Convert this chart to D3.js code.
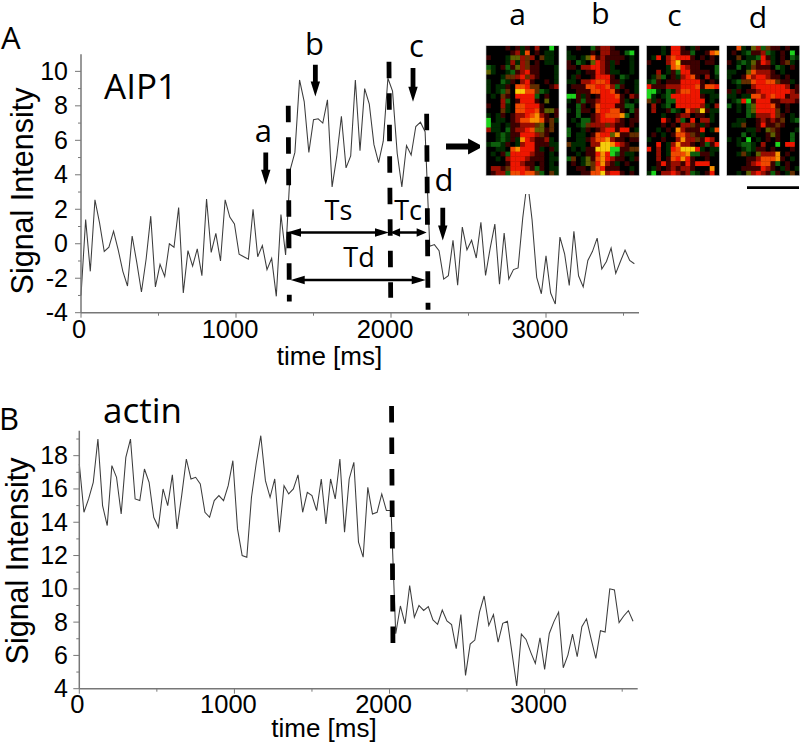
<!DOCTYPE html>
<html><head><meta charset="utf-8">
<script src="https://cdn.jsdelivr.net/npm/d3@7"></script>
<style>html,body{margin:0;padding:0;background:#fff}svg{display:block}</style>
</head><body><svg id="c" width="800" height="746"></svg>
<script>
const aip1Values=[-3,1.4,-1.6,2.55,1.2,-0.45,-0.2,0.73,-0.35,-1.6,-2.45,0.45,-1.1,-2.8,-0.9,1.6,-2.5,-1.2,-1.9,0,-0.2,2.1,-2.85,-0.4,-1.3,-0.3,-1.85,2.6,-0.5,0.6,-1,2.55,1.55,1.15,-0.6,-0.75,-0.9,2,-0.75,-0.1,-1.5,-0.85,-3.05,1.7,-0.65,4.3,5.3,9.5,8.25,5.3,7.2,7.25,7,8.35,3.3,5.05,7.4,4.4,5.1,9.5,5.4,9,8.1,5.75,4.7,5.95,9.6,8.85,5.25,3.3,5.7,5.15,6.8,7.05,6.5,-0.15,-0.05,-0.4,-2.05,-1.85,0.2,-2.4,0.97,-0.35,0.2,-0.83,1.25,-1.84,-0.25,1.14,-2.34,0.62,-2.05,-1.5,-1.4,1.5,3.7,1.4,-1.95,-2.9,-0.7,-2.86,-3.5,0.39,-0.58,-2.42,0.72,-1.86,-2.5,-0.97,-0.44,0.33,-1.47,-1.03,-0.25,-1.72,-1.03,-0.37,-0.97,-1.16];
const actinValues=[17.5,14.6,15.4,16.4,19,15,13.8,17.4,16.7,14.5,17.9,19,15.4,15.3,17.2,16.4,14.3,13.7,16,15,16.85,13.6,15.6,17.8,16.6,16.7,16.3,14.6,14.3,15.3,15.6,15.3,16.2,17.7,13.6,12,11.9,15.5,17.5,19.2,16.5,15.5,16.6,13.4,16.2,15.7,16,16.85,14.6,15.8,15.6,14.7,16.6,13.9,16.6,15.4,17.8,13.4,16.6,17.6,12.8,11.9,16.1,14.5,14.6,15.7,14.7,14.7,7.3,8.97,7.9,10.2,8.3,9,8.7,8.93,8.13,7.87,8.73,8.07,7.85,6.4,8.45,4.8,6.68,6.92,8.6,9.57,7.8,8.45,6.8,7.93,8.05,6.12,4.16,7.28,6.96,6.2,5.52,7.06,5.16,7.32,8.03,8.6,5.26,6.02,7.28,5.92,7.73,8.2,6.98,5.82,7.48,7.4,10,9.93,7.97,8.37,8.69,8.05];
const sampleMs=30;
const xTicks=[0,1000,2000,3000];
const aipTicks=[-4,-2,0,2,4,6,8,10];
const actinTicks=[4,6,8,10,12,14,16,18];
const aipDashes=[[1337,8,1344,-3.35],[1987,10.56,1998,-3.13],[2230,7.54,2239,-3.83]];
const actinDashes=[[2013,20.98,2022,6.72]];
const downArrows=[[1192,5.3,3.42],[1512,10.38,8.54],[2142,10.2,8.24],[2334,2.09,0.19]];
const spanArrows=[[1329,1987,0.65],[1994,2230,0.65],[1353,2224,-2.1]];
const noteLabels=[["a",1177,5.88,31],["b",1506,10.96,31],["c",2164,10.85,31],["d",2342,3.04,31],["Ts",1661,1.35,27],["Tc",2110,1.35,27],["Td",1794,-1.33,27]];
const imageNames=["a","b","c","d"];
const imageA=["....r.rgr.R..L.",".....rRgO.r.gg.","r...gvvRmR.mgg.","....gRgRm.r.gg.","Gg.rGrvRmrr...g","vg..gGrRFrr...g","...gmmRFmRr...g","g..Ggr.RFr..r.g","g.ggr.OOFmm..rR","g.gGm.YYOOmGg..",".g.mr.FFFFG.r..","...RG.rFFFr.v..","r..Rg.OOFFFr...","...mg.OOFFOrvvr","g.gr.rRRFOoRr.r","L.gg.rROOooOrmg","Lgg.grrRRRmv.m.","Rgg.GrRRFOvvrm.","..gGgrrFFFRmr..","..gGgrgoFRrrRg.","gGGgr.gRFFrrrgg","..gg.OoFFFrg.rg",".g.rGFFFFRrr.g.","..g.RFFFRrrr.gg","....rFFRrr.r.g.",".RRrmFFFRrGr.gg",".rRRGOOFOOmG.mg"];
const imageB=["..r..GrRRr.....","g....r.RRrr.GL.","gg.gvOrRrrrr.g.","r.Gg.vFRrgr..g.","rr.RRFFRrg...g.","..g.rrFRrgg..g.",".gr..rFFFr.Gg..","gg.RRFOOFrrg..g",".rrrOOFFORGr..g","..rrrOOFFOr.r.g","LLrgr.rFFFOr.Rr","g.rGrrRFFFFrg.g","..Gr.rOFFFrrGG.","g.Grr.OFFOOr.Gr","..G..rRFOOOoG.r",".g.GGrRFFFRr.rr","..gGmRRRmRrr.r.","G..gr.rRFFrFF.g","G.gg.rOFFvorrmm","..ggrROOoRrr.rr","mggg.RRYYoFRr..",".g.grrYYYLLrrmm","..g.rrFoFLGrgg.","Gm.gvrOoFRrr.gr",".r.gvmFoRrg.r..","..rr.mOFrrr..g.","...rrOOYRFFr.r."];
const imageC=["...g.FFr.gr....","...g.FFrrG..rOo",".gF.ROFFFr.r.r.","r...ROYrrrr.rr.","....gOoFRrr...G","..R.grGFFrrrr.G",".gmG.rgRFOr.R.g","gGr.rrrFFFFr.r.","FrrrRRRFFFOrOOF","LLg.GgROOFFggg.","Lg.gGFFFFFFr.gg","mgr.GGFFFFFF.g.",".R.gG.FFFFFRg.R",".R..rGg.ORmYrgg","...g..rRR.rr.g.","...Fr.RG.F.RRg.","...r.r.RRmrgr..","..g.r.oRrrrF.gO",".r.g.rOORmrg...","g..r..RoRRmrFR.","..F.gRoRRr.rGrF","F.R.gFOYYYFg.gg","..R.gOOOoGGrrg.","..R.rOFoFr..r..","..rFrRRrFrFFF..",".gr.rRrRRr...o.","gL.RRFRrRGg.rF."];
const imageD=["..Og.vRGmrr.r..",".r.gGrrRGg.r.L.","..m.ggGFrg.r.Gg","r.gGgvrFRg.rmg.","..G.gmrrr.Gg.r.","gg..vORRRr.g...","g..rORFFRrr.r..",".gGmmOFFOOmrrg.","..g..RFFFFFFR.r","rgr.rrRFFFFFFRr","gg.ggOORFOFFrRR",".gGFLrFFFrrRRRr","G.g.GvFFFOr.r..","..g.GvFFFFm.r..","....GgRRRFmr.g.","..gg..rRrRrm.gG",".ggm..rFrrmr...","....ggr.vmr...g","...G.g..rvr..G.","g.g.L.g.r.r..G.","..gGGg.R..L.FF.","...gGgrr.r...r.","..gmg.vRRRo.r..","....rrROOOor.g.","....rRFOOrG.r..","...rrrrFRr.gr.g","..g.vRFRrGr.gm."];
const cellColors={".":"#030303",r:"#3c0601",R:"#980f03",F:"#ee1802",O:"#f04804",o:"#f89006",Y:"#f6cc08",g:"#062a04",G:"#0c5f0e",L:"#1fd41f",v:"#5c5e04",m:"#642e03"};

const svg=d3.select("#c");
const tickFont="'Liberation Sans',Arial,sans-serif", noteFont="'Open Sans',sans-serif";
const defs=svg.append("defs");
defs.append("filter").attr("id","soft").append("feGaussianBlur").attr("stdDeviation",0.45);

function panel(o){
  const x=d3.scaleLinear().domain([0,3600]).range([o.x0,o.x1]);
  const y=d3.scaleLinear().domain(o.domain).range([o.yBottom,o.yTop]);
  const g=svg.append("g");
  g.append("path").attr("d",d3.line().x((d,i)=>x(i*sampleMs)).y(d=>y(d))(o.values))
    .attr("fill","none").attr("stroke","#3c3c3c").attr("stroke-width",1.05).attr("stroke-linejoin","miter");
  const axisColor="#777";
  const xa=g.append("g").attr("transform",`translate(0,${o.yBottom})`);
  xa.append("line").attr("x1",o.x0).attr("x2",o.x1).attr("stroke",axisColor).attr("stroke-width",1.5);
  xa.selectAll("line.mi").data(d3.range(0,3600,500).filter(t=>t%1000)).join("line").attr("class","mi")
    .attr("x1",x).attr("x2",x).attr("y2",3).attr("stroke",axisColor);
  xa.selectAll("line.ma").data(xTicks).join("line").attr("class","ma")
    .attr("x1",x).attr("x2",x).attr("y2",5).attr("stroke",axisColor);
  xa.selectAll("text").data(xTicks).join("text").attr("x",d=>x(d)+(d?-6:-2)).attr("y",o.tickBase-o.yBottom)
    .attr("text-anchor","middle").attr("font-family",tickFont).attr("font-size",25.5).attr("fill","#000").text(d=>d);
  const ya=g.append("g").attr("transform",`translate(${o.x0},0)`);
  ya.append("line").attr("y1",o.yBottom).attr("y2",o.yTop).attr("stroke",axisColor).attr("stroke-width",1.5);
  ya.selectAll("line.mi").data(o.minor).join("line").attr("class","mi")
    .attr("y1",y).attr("y2",y).attr("x2",-3).attr("stroke",axisColor);
  ya.selectAll("line.ma").data(o.ticks).join("line").attr("class","ma")
    .attr("y1",y).attr("y2",y).attr("x2",-6).attr("stroke",axisColor);
  ya.selectAll("text").data(o.ticks).join("text").attr("x",68-o.x0).attr("y",d=>y(d)+8.5)
    .attr("text-anchor","end").attr("font-family",tickFont).attr("font-size",25).attr("fill","#000").text(d=>d);
  g.append("text").attr("x",o.titleX).attr("y",o.titleBase).attr("text-anchor","middle")
    .attr("font-family",tickFont).attr("font-size",26).attr("fill","#000").text("time [ms]");
  g.append("text").attr("transform",`translate(${o.ylabX},${o.ylabY}) rotate(-90)`).attr("text-anchor","middle")
    .attr("font-family",tickFont).attr("font-size",30.5).attr("fill","#000").text("Signal Intensity");
  g.append("text").attr("x",o.nameX).attr("y",o.nameBase).attr("font-family",noteFont).attr("font-size",35).attr("fill","#000").text(o.name);
  g.append("text").attr("x",o.letterX).attr("y",o.letterBase).attr("font-family",noteFont).attr("font-size",31).attr("fill","#000").text(o.letter);
  return {x,y,g};
}
const A=panel({values:aip1Values,x0:81,x1:639,yBottom:312.7,yTop:54.3,domain:[-4,10.99],ticks:aipTicks,minor:[-3,-1,1,3,5,7,9],
  tickBase:338,titleX:329.5,titleBase:365,ylabX:33,ylabY:191,name:"AIP1",nameX:104,nameBase:99,letter:"A",letterX:1,letterBase:49});
const B=panel({values:actinValues,x0:79.3,x1:637.7,yBottom:688.7,yTop:430.7,domain:[4,19.5],ticks:actinTicks,minor:[5,7,9,11,13,15,17,19],
  tickBase:713,titleX:324,titleBase:737,ylabX:28,ylabY:561,name:"actin",nameX:103,nameBase:423,letter:"B",letterX:-1,letterBase:430});

// white surround of the micrographs hides the tall peak behind it
svg.append("rect").attr("x",480).attr("y",0).attr("width",320).attr("height",194).attr("fill","#fff");

function dashes(p,list){
  p.g.selectAll("line.dash").data(list).join("line").attr("class","dash")
    .attr("x1",d=>p.x(d[0])).attr("y1",d=>p.y(d[1])).attr("x2",d=>p.x(d[2])).attr("y2",d=>p.y(d[3]))
    .attr("stroke","#000").attr("stroke-width",4.8).attr("stroke-dasharray","16.5 15");
}
dashes(A,aipDashes);dashes(B,actinDashes);

const ann=A.g.append("g");
ann.selectAll("path.down").data(downArrows).join("path").attr("class","down").attr("fill","#000")
  .attr("d",d=>{const x=A.x(d[0]),t=A.y(d[1]),b=A.y(d[2]);
    return `M${x-2.4},${t}H${x+2.4}V${b-15}H${x+4.7}L${x},${b}L${x-4.7},${b-15}H${x-2.4}Z`;});
function span(x1,x2,y,hl,hw,sw){
  return `M${x1},${y}L${x1+hl},${y-hw}V${y-sw}H${x2-hl}V${y-hw}L${x2},${y}L${x2-hl},${y+hw}V${y+sw}H${x1+hl}V${y+hw}Z`;
}
ann.selectAll("path.span").data(spanArrows).join("path").attr("class","span").attr("fill","#000")
  .attr("d",(d,i)=>span(A.x(d[0]),A.x(d[1]),A.y(d[2]),i==1?10:14,4.2,1.2));
const tip=A.x(2594),tail=A.x(2355),mid=A.y(5.64);
ann.append("path").attr("fill","#000").attr("d",`M${tail},${mid-3}H${tip-15}V${mid-8}L${tip},${mid}L${tip-15},${mid+8}V${mid+3}H${tail}Z`);
ann.selectAll("text").data(noteLabels).join("text").attr("x",d=>A.x(d[1])).attr("y",d=>A.y(d[2]))
  .attr("text-anchor","middle").attr("font-family",noteFont).attr("font-size",d=>d[3]).attr("fill","#000").text(d=>d[0]);

// micrographs
const images=[imageA,imageB,imageC,imageD];
const imgX=d3.scalePoint().domain(imageNames).range([486,726.7]);
const imgW=73,imgY0=45.7,imgH=130;
const col=d3.scaleBand().domain(d3.range(15)).range([0,imgW]);
const row=d3.scaleBand().domain(d3.range(27)).range([0,imgH]);
const imgs=svg.selectAll("g.img").data(imageNames).join("g").attr("class","img")
  .attr("transform",d=>`translate(${imgX(d)},${imgY0})`);
imgs.append("rect").attr("width",imgW).attr("height",imgH).attr("fill","#030303");
imgs.append("g").attr("filter","url(#soft)").each(function(d,i){
  const cells=[];images[i].forEach((s,r)=>{for(let c=0;c<15;c++)cells.push({r,c,k:s[c]||"."});});
  d3.select(this).selectAll("rect").data(cells).join("rect")
    .attr("x",e=>col(e.c)).attr("y",e=>row(e.r)).attr("width",col.bandwidth()+0.3).attr("height",row.bandwidth()+0.3)
    .attr("fill",e=>cellColors[e.k]);
});
imgs.append("rect").attr("x",-1).attr("y",-1).attr("width",imgW+2).attr("height",imgH+2).attr("fill","none").attr("stroke","#fff").attr("stroke-width",2);
imgs.append("rect").attr("width",imgW).attr("height",imgH).attr("fill","none").attr("stroke","#c8c8c8").attr("stroke-width",0.6);
const labelBase=[25,24,26,27.7],labelMid=[517.5,600.5,674.5,758];
svg.selectAll("text.imgl").data(imageNames).join("text").attr("class","imgl")
  .attr("x",(d,i)=>labelMid[i]).attr("y",(d,i)=>labelBase[i]).attr("text-anchor","middle")
  .attr("font-family",noteFont).attr("font-size",30).attr("fill","#000").text(d=>d);
svg.append("line").attr("x1",747).attr("x2",799).attr("y1",187.7).attr("y2",187.7).attr("stroke","#000").attr("stroke-width",2.8);
</script></body></html>
